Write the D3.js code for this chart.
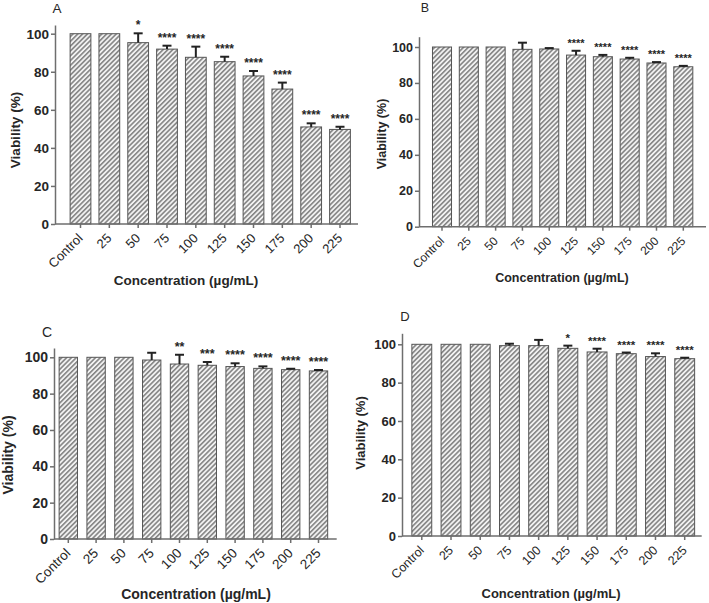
<!DOCTYPE html>
<html>
<head>
<meta charset="utf-8">
<script src="https://cdn.jsdelivr.net/npm/d3@7"></script>
<style>
html,body{margin:0;padding:0;background:#fff;}
svg{display:block;font-family:"Liberation Sans",Arial,sans-serif;}
</style>
</head>
<body>
<svg id="chart" width="709" height="603"></svg>
<script>
// ---- data ----
const categories = ["Control","25","50","75","100","125","150","175","200","225"];
const yTicks = [0,20,40,60,80,100];

const meansA = [100,100,95.3,91.9,87.6,85.3,77.8,70.9,51.0,49.7];
const sdA    = [0,0,4.9,1.8,5.6,2.6,2.6,3.4,1.9,1.4];
const sigA   = ["","","*","****","****","****","****","****","****","****"];

const meansB = [100,100,100,98.7,98.9,95.5,94.6,93.3,91.1,89.0];
const sdB    = [0,0,0,3.7,0.5,2.4,1.0,0.7,0.5,0.5];
const sigB   = ["","","","","","****","****","****","****","****"];

const meansC = [100,100,100,98.5,96.3,95.6,94.9,93.9,93.2,92.5];
const sdC    = [0,0,0,4.0,5.1,1.8,1.8,1.1,0.5,0.5];
const sigC   = ["","","","","**","***","****","****","****","****"];

const meansD = [100,100,100,99.3,99.3,97.9,96.0,95.1,93.6,92.5];
const sdD    = [0,0,0,1.0,3.0,1.4,1.7,0.6,1.7,0.5];
const sigD   = ["","","","","","*","****","****","****","****"];

const panelLabels = ["A","B","C","D"];
const xTitle = "Concentration (µg/mL)";
const yTitle = "Viability (%)";

// ---- layout (per panel) ----
const layouts = [
  {axisX:55,  y0:224,   y100:33.7,  yTop:25,    c0:80.5,  cN:340,   axisEnd:358,   pad:0.28, fs:13,
   label:[57,8], xt:[186,285], yt:[15,130]},
  {axisX:419, y0:226.7, y100:47,    yTop:36.7,  c0:442,   cN:683.3, axisEnd:706,   pad:0.29, fs:12,
   label:[425,8], xt:[562,282], yt:[382,134]},
  {axisX:54,  y0:539,   y100:357.3, yTop:348,   c0:68.3,  cN:318.5, axisEnd:336.7, pad:0.34, fs:13.5,
   label:[47,332], xt:[196,599], yt:[8,455]},
  {axisX:402, y0:536,   y100:344.3, yTop:333.3, c0:421.8, cN:684.7, axisEnd:701.7, pad:0.32, fs:12.5,
   label:[405,316], xt:[551,598], yt:[360,433]}
];
const panels = [
  {means:meansA, sd:sdA, sig:sigA},
  {means:meansB, sd:sdB, sig:sigB},
  {means:meansC, sd:sdC, sig:sigC},
  {means:meansD, sd:sdD, sig:sigD}
];

const svg = d3.select("#chart");
const defs = svg.append("defs");
const pat = defs.append("pattern")
  .attr("id","hatch").attr("patternUnits","userSpaceOnUse")
  .attr("width",3.4).attr("height",3.4)
  .attr("patternTransform","rotate(45)");
pat.append("rect").attr("width",3.4).attr("height",3.4).attr("fill","#f2f2f2");
pat.append("line").attr("x1",0.8).attr("y1",0).attr("x2",0.8).attr("y2",3.4)
  .attr("stroke","#7d7d7d").attr("stroke-width",1.5);

const axisColor = "#6e6e6e";
const textColor = "#262626";

panels.forEach((p, i) => {
  const L = layouts[i];
  const g = svg.append("g");
  const unit = (L.y0 - L.y100) / 100;
  const yMax = 100 + (L.y100 - L.yTop) / unit;
  const y = d3.scaleLinear().domain([0, yMax]).range([L.y0, L.yTop]);
  const step = (L.cN - L.c0) / (categories.length - 1);
  const x = d3.scaleBand().domain(categories)
    .range([L.c0 - step/2, L.cN + step/2])
    .paddingInner(L.pad).paddingOuter(L.pad/2);
  const bw = x.bandwidth();

  // bars
  g.selectAll("rect.bar").data(categories).enter().append("rect")
    .attr("class","bar")
    .attr("x", d => x(d))
    .attr("width", bw)
    .attr("y", (d,j) => y(p.means[j]))
    .attr("height", (d,j) => y(0) - y(p.means[j]))
    .attr("fill","url(#hatch)")
    .attr("stroke","#555").attr("stroke-width",1);

  // error bars (upper only)
  const errs = categories.map((d,j) => ({c:d, m:p.means[j], s:p.sd[j], sig:p.sig[j]}));
  const eg = g.append("g").attr("stroke","#222").attr("stroke-width",2);
  errs.filter(e => e.s > 0).forEach(e => {
    const cx = x(e.c) + bw/2;
    eg.append("line").attr("x1",cx).attr("x2",cx)
      .attr("y1", y(e.m)).attr("y2", y(e.m + e.s));
    eg.append("line").attr("x1",cx-4.5).attr("x2",cx+4.5)
      .attr("y1", y(e.m + e.s)).attr("y2", y(e.m + e.s));
  });

  // significance stars
  g.selectAll("text.sig").data(errs.filter(e => e.sig)).enter().append("text")
    .attr("class","sig")
    .attr("x", e => x(e.c) + bw/2)
    .attr("y", e => y(e.m + e.s) - 4)
    .attr("text-anchor","middle")
    .attr("font-size", L.fs - 1)
    .attr("font-weight","bold")
    .attr("fill", textColor)
    .text(e => e.sig);

  // y axis
  const ya = g.append("g").attr("transform",`translate(${L.axisX},0)`)
    .call(d3.axisLeft(y).tickValues(yTicks).tickSize(4).tickSizeOuter(0).tickPadding(2));
  ya.select(".domain").attr("stroke",axisColor).attr("stroke-width",1.5);
  ya.selectAll(".tick line").attr("stroke",axisColor).attr("stroke-width",1.5);
  ya.selectAll(".tick text").attr("font-size",L.fs + 0.5).attr("font-weight","bold")
    .attr("fill",textColor).attr("font-family","Liberation Sans, Arial, sans-serif");

  // x axis
  const xa = g.append("g").attr("transform",`translate(0,${L.y0})`)
    .call(d3.axisBottom(x).tickSize(4).tickSizeOuter(0));
  xa.select(".domain").remove();
  xa.append("line").attr("x1",L.axisX).attr("x2",L.axisEnd).attr("y1",0).attr("y2",0)
    .attr("stroke",axisColor).attr("stroke-width",1.5);
  xa.selectAll(".tick line").attr("stroke",axisColor).attr("stroke-width",1.5);
  xa.selectAll(".tick text")
    .attr("font-size",L.fs).attr("fill",textColor)
    .attr("font-family","Liberation Sans, Arial, sans-serif")
    .attr("text-anchor","end")
    .attr("dy",null)
    .attr("y",null)
    .attr("transform","translate(3,15) rotate(-45)");

  // titles
  g.append("text").attr("x",L.label[0]).attr("y",L.label[1])
    .attr("text-anchor","middle").attr("dominant-baseline","central")
    .attr("font-size",L.fs + 0.5).attr("fill",textColor).text(panelLabels[i]);
  g.append("text").attr("x",L.xt[0]).attr("y",L.xt[1])
    .attr("text-anchor","middle").attr("font-size",L.fs + 0.5)
    .attr("font-weight","bold").attr("fill",textColor).text(xTitle);
  g.append("text")
    .attr("transform",`translate(${L.yt[0]},${L.yt[1]}) rotate(-90)`)
    .attr("text-anchor","middle").attr("dominant-baseline","central")
    .attr("font-size",L.fs + 0.5).attr("font-weight","bold").attr("fill",textColor).text(yTitle);
});
</script>
</body>
</html>
